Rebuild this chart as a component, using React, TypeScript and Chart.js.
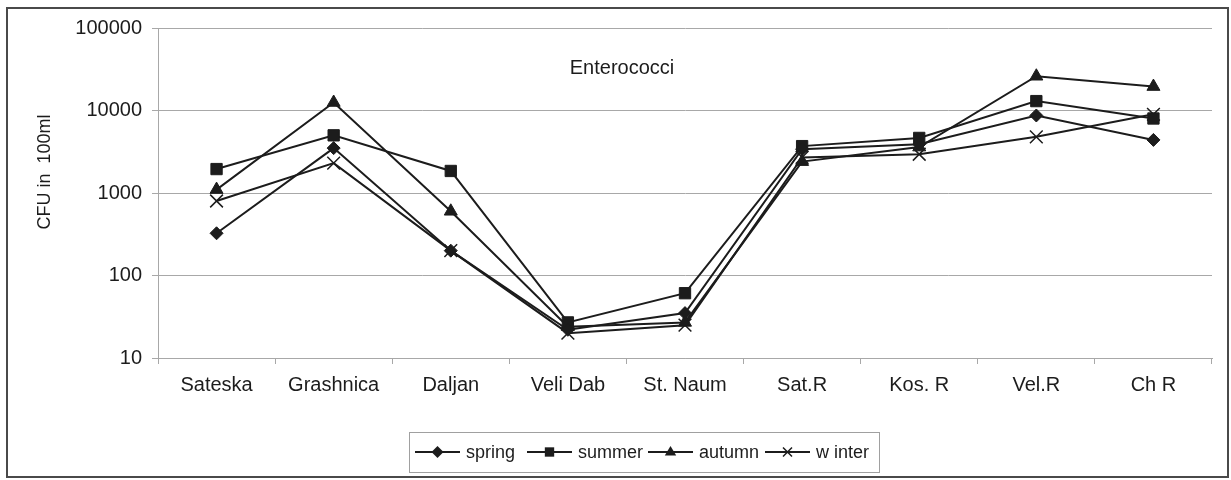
import React, { useEffect, useRef } from "react";
import { Chart, registerables } from "chart.js";

Chart.register(...registerables);

const categories = ["Sateska", "Grashnica", "Daljan", "Veli Dab", "St. Naum", "Sat.R", "Kos. R", "Vel.R", "Ch R"];
const spring = [325, 3500, 200, 22, 35, 3400, 3900, 8700, 4400];
const summer = [1950, 5000, 1850, 27, 61, 3700, 4650, 13000, 8000];
const autumn = [1100, 12500, 600, 24, 27, 2400, 3600, 26000, 19500];
const winter = [800, 2300, 200, 20, 25, 2700, 2950, 4800, 9000];
const seriesNames = ["spring", "summer", "autumn", "w inter"];
const seriesMarkers = ["rectRot", "rect", "triangle", "crossRot"];
const yTicks = [10, 100, 1000, 10000, 100000];
const chartTitle = "Enterococci";
const yTitle = "CFU in  100ml";

const FONT = '"Liberation Sans", Arial, sans-serif';
const INK = "#1c1c1c";
const GRID = "#a8a8a8";

function drawMarker(ctx: CanvasRenderingContext2D, style: string, x: number, y: number, r: number) {
  ctx.save();
  ctx.fillStyle = INK;
  ctx.strokeStyle = INK;
  ctx.lineWidth = 1.5;
  ctx.beginPath();
  if (style === "rectRot") {
    ctx.moveTo(x - r, y);
    ctx.lineTo(x, y - r);
    ctx.lineTo(x + r, y);
    ctx.lineTo(x, y + r);
    ctx.closePath();
    ctx.fill();
  } else if (style === "rect") {
    const s = r * 0.78;
    ctx.rect(x - s, y - s, 2 * s, 2 * s);
    ctx.fill();
  } else if (style === "triangle") {
    ctx.moveTo(x, y - r);
    ctx.lineTo(x + r * 0.95, y + r * 0.6);
    ctx.lineTo(x - r * 0.95, y + r * 0.6);
    ctx.closePath();
    ctx.fill();
  } else {
    const s = r * 0.75;
    ctx.moveTo(x - s, y - s);
    ctx.lineTo(x + s, y + s);
    ctx.moveTo(x + s, y - s);
    ctx.lineTo(x - s, y + s);
    ctx.stroke();
  }
  ctx.restore();
}

const decorPlugin = {
  id: "decor",
  beforeDraw(chart: any) {
    const ctx = chart.ctx as CanvasRenderingContext2D;
    ctx.save();
    ctx.fillStyle = "#ffffff";
    ctx.fillRect(0, 0, chart.width, chart.height);
    ctx.strokeStyle = "#4a4a4a";
    ctx.lineWidth = 2;
    ctx.strokeRect(7, 8, 1221, 469);
    ctx.restore();
  },
  afterDraw(chart: any) {
    const ctx = chart.ctx as CanvasRenderingContext2D;
    const area = chart.chartArea;
    ctx.save();
    // title inside plot
    ctx.fillStyle = INK;
    ctx.font = `20px ${FONT}`;
    ctx.textAlign = "center";
    ctx.textBaseline = "middle";
    ctx.fillText(chartTitle, area.left + 464, area.top + 40);
    // y axis title
    ctx.save();
    ctx.translate(45, 172);
    ctx.rotate(-Math.PI / 2);
    ctx.font = `18px ${FONT}`;
    ctx.fillText(yTitle, 0, 0);
    ctx.restore();
    // legend
    const boxX = 409, boxY = 432, boxW = 470, boxH = 40;
    ctx.strokeStyle = "#a0a0a0";
    ctx.lineWidth = 1;
    ctx.strokeRect(boxX + 0.5, boxY + 0.5, boxW, boxH);
    const starts = [415, 527, 648, 765];
    const cy = boxY + 20;
    ctx.font = `18px ${FONT}`;
    ctx.textAlign = "left";
    chart.data.datasets.forEach((ds: any, i: number) => {
      const x = starts[i];
      ctx.strokeStyle = INK;
      ctx.lineWidth = 2;
      ctx.beginPath();
      ctx.moveTo(x, cy);
      ctx.lineTo(x + 45, cy);
      ctx.stroke();
      drawMarker(ctx, ds.pointStyle, x + 22.5, cy, 6);
      ctx.fillStyle = INK;
      ctx.fillText(ds.label, x + 51, cy + 1);
    });
    ctx.restore();
  },
};

export default function App() {
  const ref = useRef<HTMLCanvasElement | null>(null);
  useEffect(() => {
    if (!ref.current) return;
    const seriesValues = [spring, summer, autumn, winter];
    const radii = [6.5, 8, 7.5, 9];
    const chart = new Chart(ref.current, {
      type: "line",
      data: {
        labels: categories,
        datasets: seriesValues.map((vals, i) => ({
          label: seriesNames[i],
          data: vals,
          borderColor: INK,
          backgroundColor: INK,
          pointBackgroundColor: INK,
          pointBorderColor: INK,
          borderWidth: 2,
          pointStyle: seriesMarkers[i] as any,
          pointRadius: radii[i],
          pointBorderWidth: i === 3 ? 1.5 : 1,
          tension: 0,
        })),
      },
      options: {
        responsive: false,
        animation: false,
        layout: { padding: { left: 20, top: 28, right: 19, bottom: 20 } },
        plugins: {
          legend: { display: false },
          title: { display: false },
          tooltip: { enabled: false },
        },
        scales: {
          x: {
            type: "category",
            offset: true,
            grid: { offset: true, drawOnChartArea: false, tickLength: 6, color: GRID },
            border: { display: true, color: GRID },
            ticks: { color: INK, font: { family: FONT, size: 20 }, padding: 9, maxRotation: 0, autoSkip: false },
            afterFit: (scale: any) => {
              scale.height = 102;
            },
          },
          y: {
            type: "logarithmic",
            min: 10,
            max: 100000,
            grid: { color: GRID, tickLength: 6 },
            border: { display: true, color: GRID },
            afterBuildTicks: (scale: any) => {
              scale.ticks = yTicks.map((v) => ({ value: v }));
            },
            ticks: {
              color: INK,
              font: { family: FONT, size: 20 },
              padding: 10,
              callback: (v: any) => String(v),
            },
            afterFit: (scale: any) => {
              scale.width = 138;
            },
          },
        },
      },
      plugins: [decorPlugin],
    });
    return () => chart.destroy();
  }, []);
  return (
    <div style={{ position: "fixed", left: 0, top: 0, width: 1231, height: 480, background: "#fff" }}>
      <canvas ref={ref} width={1231} height={480} style={{ display: "block" }} />
    </div>
  );
}
